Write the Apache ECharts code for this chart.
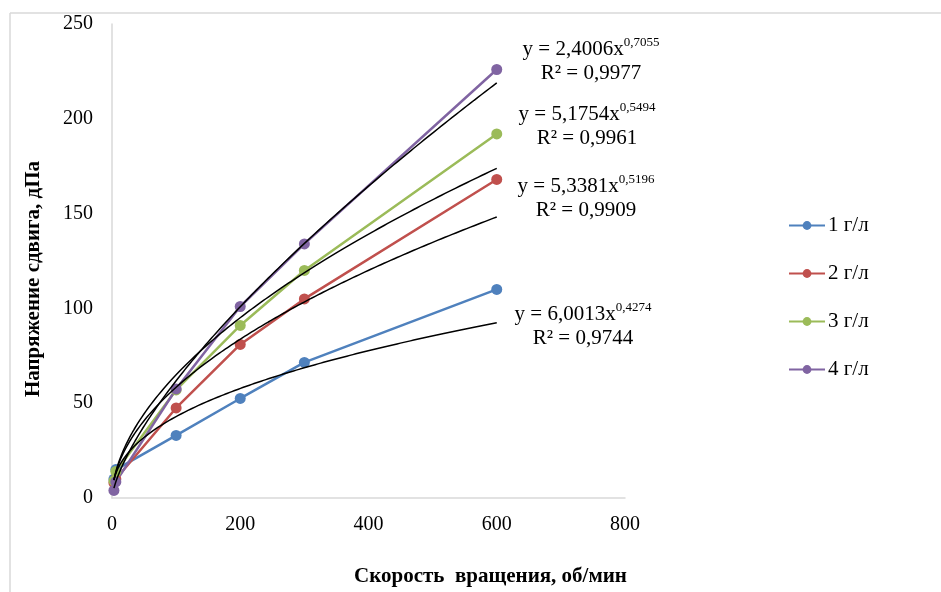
<!DOCTYPE html>
<html>
<head>
<meta charset="utf-8">
<script src="https://cdn.jsdelivr.net/npm/echarts@6/dist/echarts.min.js"></script>
<style>
  html, body { margin: 0; padding: 0; background: #fff; }
  #chart { width: 941px; height: 592px; }
</style>
</head>
<body>
<div id="chart"></div>
<script>
// Rotation speed, rpm
const speeds = [3, 6, 100, 200, 300, 600];

// Shear stress, dPa, per concentration
const seriesNames = ['1 г/л', '2 г/л', '3 г/л', '4 г/л'];
const stress1 = [10, 15, 33, 52.5, 71.5, 110];
const stress2 = [8, 10, 47.5, 81, 105, 168];
const stress3 = [9, 14, 57, 91, 120, 192];
const stress4 = [4, 8.5, 57.5, 101, 134, 226];

// Power-law trendlines y = a * x^b
const trendA = [6.0013, 5.3381, 5.1754, 2.4006];
const trendB = [0.4274, 0.5196, 0.5494, 0.7055];
const trendR2 = [0.9744, 0.9909, 0.9961, 0.9977];

const xTicks = [0, 200, 400, 600, 800];
const yTicks = [0, 50, 100, 150, 200, 250];

const colors = ['#4f81bd', '#c0504d', '#9bbb59', '#8064a2'];
const serif = '"Liberation Serif", "Times New Roman", serif';

const stressData = [stress1, stress2, stress3, stress4];

function fmt(v, digits) {
  return v.toFixed(digits).replace('.', ',');
}

const dataSeries = stressData.map((vals, i) => ({
  name: seriesNames[i],
  type: 'line',
  data: speeds.map((x, k) => [x, vals[k]]),
  symbol: 'circle',
  symbolSize: 11,
  lineStyle: { color: colors[i], width: 2.5 },
  itemStyle: { color: colors[i] },
  z: 2
}));

// Trend curves sampled along the speed range
const trendSeries = trendA.map((a, i) => {
  const pts = [];
  const x0 = speeds[0], x1 = speeds[speeds.length - 1];
  const n = 200;
  for (let k = 0; k <= n; k++) {
    const x = x0 + (x1 - x0) * Math.pow(k / n, 2);
    pts.push([x, a * Math.pow(x, trendB[i])]);
  }
  return {
    type: 'line',
    data: pts,
    showSymbol: false,
    symbol: 'none',
    silent: true,
    lineStyle: { color: '#000', width: 1.5 },
    z: 3
  };
});

// Equation labels (placed per trendline: 1, 2, 3, 4 г/л)
const labelPos = [
  { x: 583, y: 301 },
  { x: 586, y: 173 },
  { x: 587, y: 101 },
  { x: 591, y: 36 }
];
const eqGraphics = trendA.map((a, i) => ({
  type: 'text',
  x: labelPos[i].x,
  y: labelPos[i].y,
  style: {
    text: '{m|y = ' + fmt(a, 4) + 'x}{s|' + fmt(trendB[i], 4) + '}\n{m|R² = ' + fmt(trendR2[i], 4) + '}',
    align: 'center',
    verticalAlign: 'top',
    fill: '#000',
    rich: {
      m: { fontFamily: serif, fontSize: 21, lineHeight: 24, verticalAlign: 'bottom', fill: '#000' },
      s: { fontFamily: serif, fontSize: 13, lineHeight: 15, verticalAlign: 'top', fill: '#000' }
    }
  },
  z: 10
}));

const chart = echarts.init(document.getElementById('chart'), null, { renderer: 'canvas' });
chart.setOption({
  backgroundColor: '#fff',
  animation: false,
  grid: { left: 112, right: 316, top: 24, bottom: 91, containLabel: false },
  xAxis: {
    type: 'value',
    min: xTicks[0],
    max: xTicks[xTicks.length - 1],
    interval: xTicks[1] - xTicks[0],
    name: 'Скорость  вращения, об/мин',
    nameLocation: 'middle',
    nameGap: 68,
    nameTextStyle: { fontFamily: serif, fontSize: 21, fontWeight: 'bold', color: '#000', padding: [0, 0, 0, 244] },
    axisLine: { show: true, lineStyle: { color: '#d9d9d9', width: 1.5 } },
    axisTick: { show: false },
    splitLine: { show: false },
    axisLabel: { fontFamily: serif, fontSize: 20, color: '#000', margin: 17 }
  },
  yAxis: {
    type: 'value',
    min: yTicks[0],
    max: yTicks[yTicks.length - 1],
    interval: yTicks[1] - yTicks[0],
    name: 'Напряжение сдвига, дПа',
    nameLocation: 'middle',
    nameGap: 68,
    nameTextStyle: { fontFamily: serif, fontSize: 21, fontWeight: 'bold', color: '#000', padding: [0, 36, 0, 0] },
    axisLine: { show: true, lineStyle: { color: '#d9d9d9', width: 1.5 } },
    axisTick: { show: false },
    splitLine: { show: false },
    axisLabel: { fontFamily: serif, fontSize: 20, color: '#000', margin: 19 }
  },
  legend: {
    data: seriesNames,
    orient: 'vertical',
    left: 783,
    top: 210,
    itemWidth: 36,
    itemHeight: 11,
    itemGap: 27,
    textStyle: { fontFamily: serif, fontSize: 21, color: '#000', lineHeight: 21, padding: [0, 0, 0, -2] }
  },
  graphic: [
    { type: 'line', shape: { x1: 10, y1: 13, x2: 941, y2: 13 }, style: { stroke: '#d9d9d9', lineWidth: 1.5 } },
    { type: 'line', shape: { x1: 10, y1: 13, x2: 10, y2: 592 }, style: { stroke: '#d9d9d9', lineWidth: 1.5 } }
  ].concat(eqGraphics),
  series: dataSeries.concat(trendSeries)
});
</script>
</body>
</html>
